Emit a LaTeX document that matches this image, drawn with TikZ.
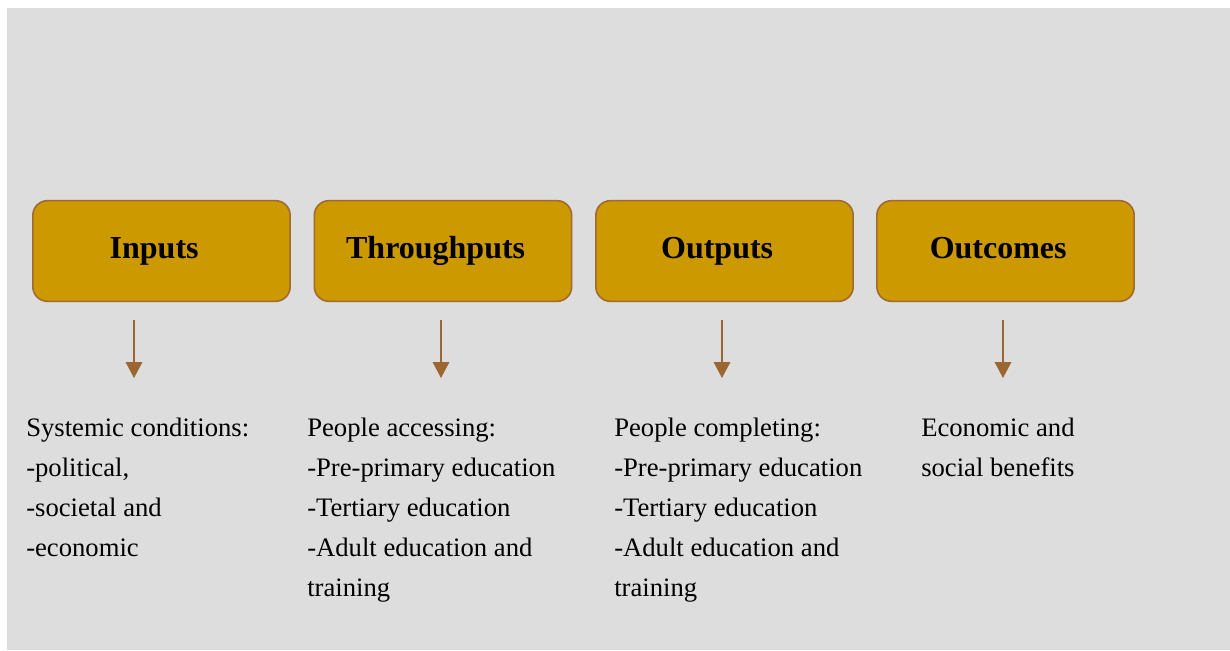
\documentclass[tikz,border=0pt]{standalone}
\usepackage{fontspec}
\setmainfont{Liberation Serif}
\usetikzlibrary{arrows.meta,positioning,calc}
\definecolor{panel}{HTML}{DDDDDD}
\definecolor{gold}{HTML}{CC9900}
\definecolor{rim}{HTML}{A06A32}
\definecolor{arrowbrown}{HTML}{9C6632}

\begin{document}
\begin{tikzpicture}[x=0.75pt,y=-0.75pt,
stage/.style={
draw=rim,
fill=gold,
line width=1.2pt,
rounded corners=11pt,
minimum width=193pt,
minimum height=75.5pt,
text height=16pt,
text depth=5pt,
font=\fontsize{24}{28}\selectfont\bfseries,
},
detail/.style={
anchor=north west,
align=left,
inner sep=0pt,
font=\fontsize{20}{30}\selectfont,
},
flow/.style={-{Triangle[width=12pt,length=12pt]},draw=arrowbrown,fill=arrowbrown,line width=2.2pt}
]
\useasboundingbox (0,0) rectangle (1230,650);
\fill[panel] (7,8) rectangle (1230,650);

% the four stages, labels sit a bit left of centre
\foreach \name/\cx/\label in {inputs/161.5/Inputs,throughputs/443/Throughputs,outputs/724.5/Outputs,outcomes/1005.5/Outcomes}
		\node [stage] (\name) at (\cx,251) {\label\kern11pt};

% what each stage stands for
\node [detail] (inputsText) at (26,418) {Systemic conditions:\\-political,\\-societal and\\-economic};
\node [detail] (throughputsText) at (307,418) {People accessing:\\-Pre-primary education\\-Tertiary education\\-Adult education and\\training};
\node [detail] (outputsText) at (614,418) {People completing:\\-Pre-primary education\\-Tertiary education\\-Adult education and\\training};
\node [detail] (outcomesText) at (921,418) {Economic and\\social benefits};

\foreach \name/\dx in {inputs/-27.5,throughputs/-2,outputs/-2.5,outcomes/-2.5}
		\draw [flow] ($(\name.south)+(\dx,18)$) -- ++(0,58);
\end{tikzpicture}
\end{document}
